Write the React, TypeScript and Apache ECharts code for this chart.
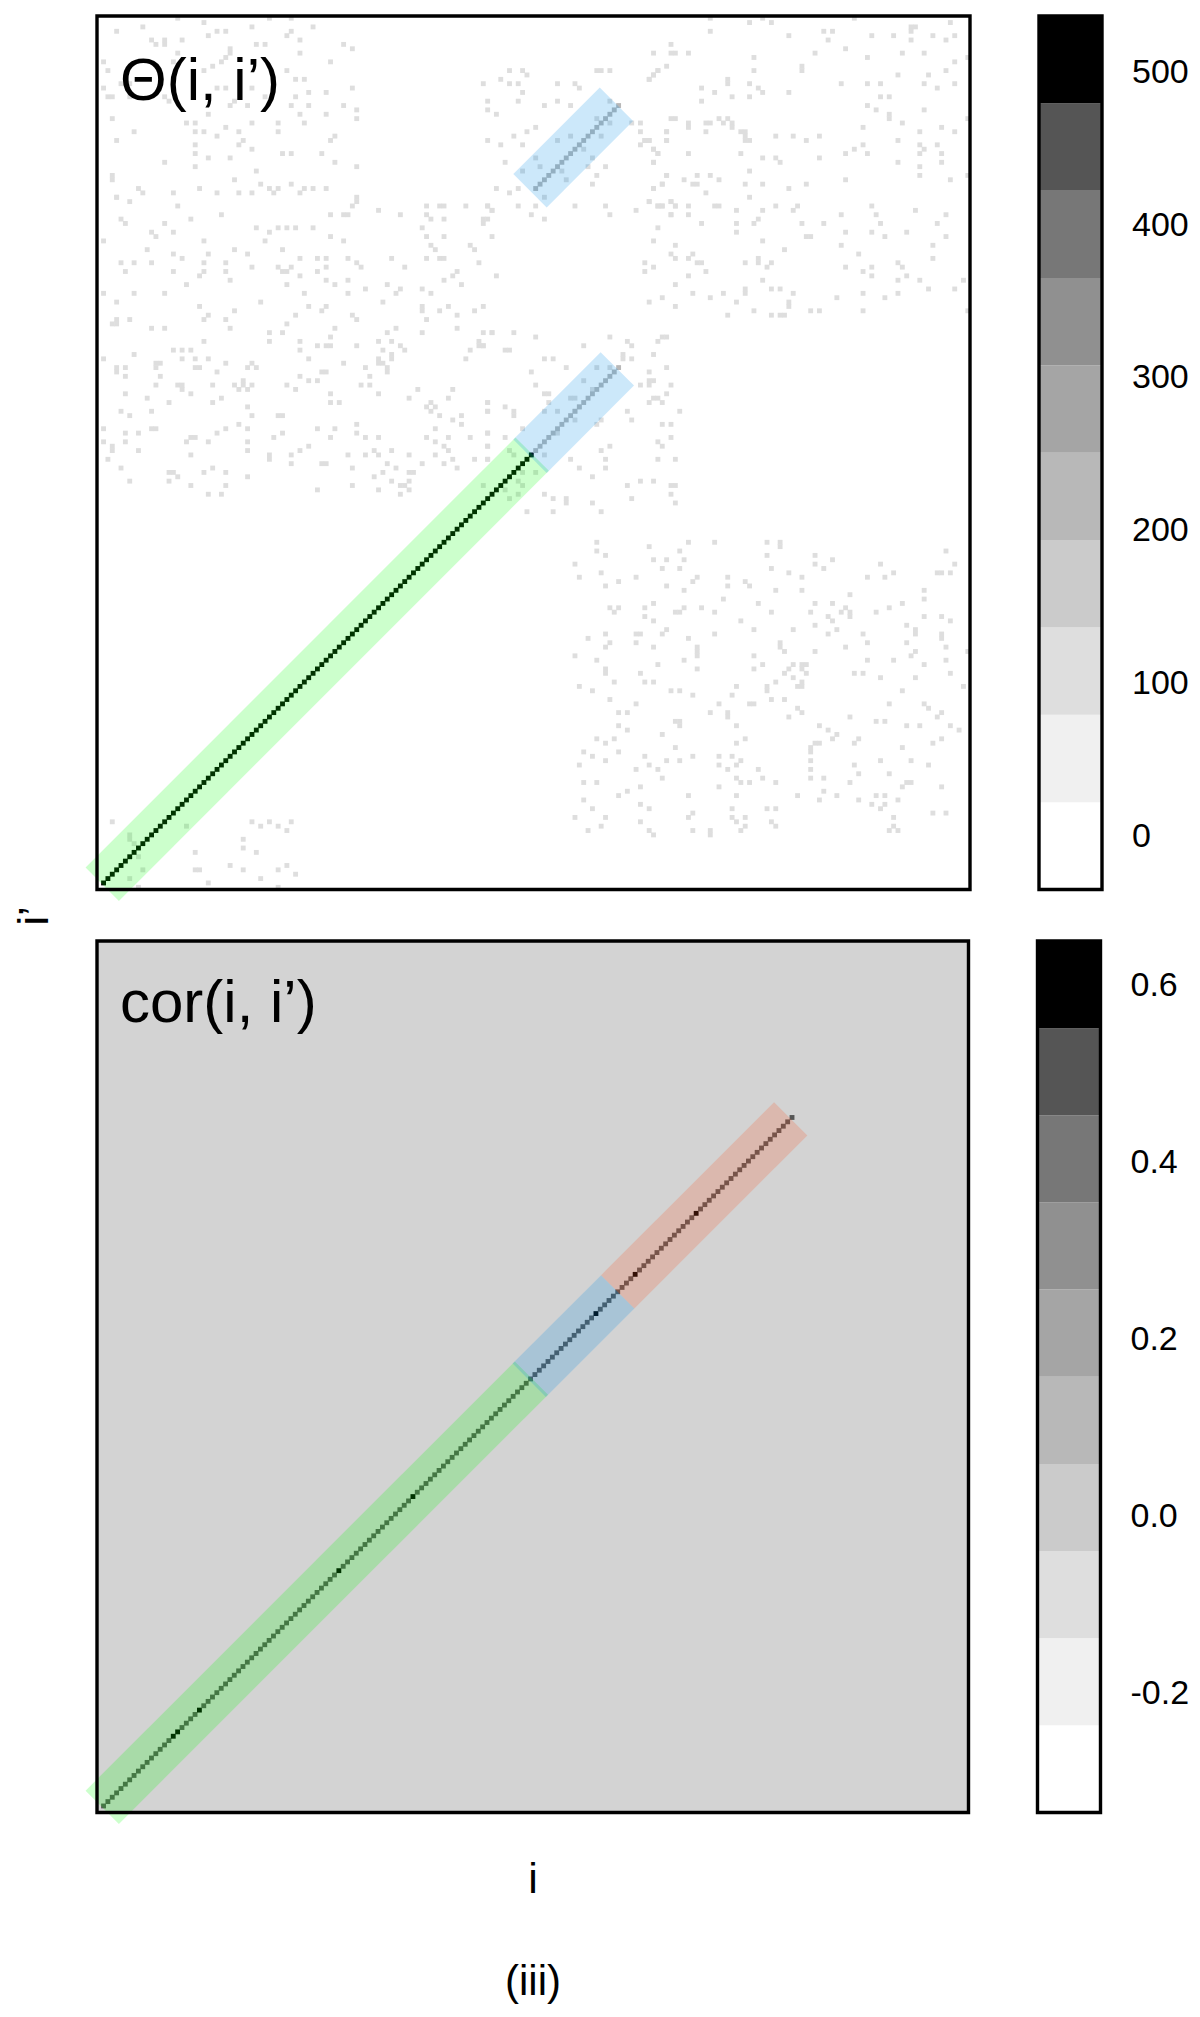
import React, { useEffect, useRef } from "react";
import * as echarts from "echarts";

// KNOWN OMISSIONS, not oversights:
// - cor panel: the per-cell noise (about 40000 cells) could not be read from the picture and is not
//   synthesised; the grid background is a flat estimate of its mean tone.
// - Theta panel: the light scattered cells are only those transcribed from zoomed crops, so regions
//   outside those crops are blank in this drawing although the reference has cells there too.
// - Diagonal values in the cor panel are a single typical level plus the visibly black peaks.

const CELL_COUNT = 200;
const cellCategories = Array.from({ length: CELL_COUNT }, (_, k) => String(k + 1));
const levelColors = ["#ffffff", "#f0f0f0", "#dedede", "#cbcbcb", "#b8b8b8", "#a5a5a5", "#909090", "#777777", "#555555", "#000000"];

// Colour-scale edges
const thetaBreaks = [-36, 21.2, 78.4, 135.6, 192.8, 250, 307.2, 364.4, 421.6, 478.8, 536];
const corBreaks = [-0.336, -0.2376, -0.1392, -0.0408, 0.0576, 0.156, 0.2544, 0.3528, 0.4512, 0.5496, 0.648];
const thetaTicks = [0, 100, 200, 300, 400, 500];
const corTicks = [-0.2, 0, 0.2, 0.4, 0.6];

// Theta: diagonal runs (first index, last index, value, y offset)
const thetaRuns = [
  [1, 99, 530, 0],
  [100, 119, 220, 0],
  [100, 119, 220, 60],
];
// Correlation diagonal
const corDiagonalLast = 159;
const corDiagonalTypical = 0.5;
const corDiagonalPeaks = [17, 18, 23, 55, 72, 114, 123, 137];
const corPeakValue = 0.62;

const thetaScatter = [
  [4,3],[10,2],[18,0],[24,1],[35,2],[39,0],[44,0],[49,2],[25,4],[27,3],[29,3],[44,3],[43,4],[12,5],[13,6],[15,5],[15,6],[19,5],[36,6],[38,6],[46,5],[56,6],[58,7],[30,7],[30,8],[18,8],[46,8],[29,9],[28,10],[1,10],[17,10],[53,10],[2,12],[24,12],[26,11],[43,12],[45,14],[47,14],[1,16],[5,15],[7,15],[29,16],[27,16],[35,16],[58,16],[48,17],[52,17],[2,18],[3,18],[7,18],[15,18],[16,19],[45,18],[38,18],[31,19],[30,20],[34,20],[44,20],[48,20],[56,20],[59,21],[25,22],[46,22],[52,22],[59,23],[3,23],[20,24],[22,24],[35,24],[41,24],[47,24],[29,25],[8,26],[22,26],[24,26],[32,26],[41,26],[27,27],[54,27],[53,28],[4,28],[33,28],[32,29],[22,29],[35,30],[22,31],[42,31],[44,31],[51,31],[25,32],[30,32],[15,33],[54,33],[22,34],[59,34],[36,35],[3,36],[3,37],[31,37],[37,38],[44,38],[9,39],[10,40],[23,39],[39,39],[41,39],[47,39],[49,39],[52,39],[4,41],[17,40],[27,40],[32,40],[35,40],[40,40],[46,40],
  [88,15],[92,14],[94,15],[96,15],[97,17],[89,19],[96,19],[89,21],[91,22],[102,20],[105,15],[109,15],[110,16],[105,19],[108,20],[117,19],[114,23],[117,24],[122,24],[124,24],[100,25],[98,26],[95,27],[108,27],[115,27],[89,28],[92,29],[97,29],[105,28],[111,30],[124,26],[130,26],[130,28],[125,28],[126,28],[124,29],[127,30],[128,31],[127,33],[93,33],[100,32],[101,34],[97,35],[106,35],[113,32],[112,34],[116,34],[107,37],[114,36],[113,38],[130,36],[129,38],[127,39],[91,39],[96,39],[94,40],[102,41],[89,43],[90,44],[96,43],[100,43],[109,43],[116,43],[123,44],[126,42],[128,43],[129,43],[131,42],[132,43],[117,45],[131,45],[99,45],[102,46],[94,12],[97,12],[98,13],[114,12],[115,12],[117,12],[126,14],[127,13],[128,12],
  [90,72],[95,72],[100,73],[117,73],[129,73],[130,73],[121,74],[122,75],[128,74],[88,75],[93,76],[94,76],[111,75],[127,77],[120,77],[120,78],[102,78],[104,78],[122,78],[107,80],[114,80],[117,80],[130,80],[99,81],[126,81],[111,83],[126,83],[127,83],[126,84],[100,84],[124,84],[131,84],[113,85],[102,86],[103,86],[130,86],[108,87],[109,87],[127,87],[128,87],[103,88],[89,88],[126,88],[129,88],[93,89],[110,89],[109,90],[89,90],[95,90],[95,91],[102,90],[105,90],[121,90],[133,90],[115,92],[122,92],[109,92],[114,93],[129,93],[131,93],[97,94],[89,95],[105,95],[131,96],[93,96],[128,97],[129,98],[89,98],[117,98],[115,99],[89,101],[94,99],[95,100],[102,100],[108,101],[116,101],[128,101],[132,101],[110,103],[116,103],[97,104],[100,104],[113,105],[121,107],[124,106],[127,106],[131,107],[132,107],[88,107],[97,107],[96,106],[93,108],[96,109],[102,109],[104,110],[107,110],[107,111],[122,110],[131,109],[94,110],[113,111],[132,111],[98,113],[104,113],[115,113],
  [3,184],[7,187],[7,188],[20,185],[35,184],[37,185],[39,184],[41,185],[44,184],[43,186],[33,188],[33,190],[36,191],[22,191],[8,189],[9,192],[30,194],[33,195],[43,194],[41,195],[45,196],[22,195],[23,195],[10,195],[7,197],[25,198],[37,197],[41,199],[9,199],
];

// More of the same cells, listed by row: [row from top, ...columns]
const thetaRowsLeft = [
  [41,4,59],[42,7,59],[43,18,58,75,78,79,84,89],[44,64,90],[45,28,53,56,57,69,75],[46,5,21,76,79,88,89],[47,6,15,88],[48,36,41,43,45,49,74],[49,12,17,39],[50,13,53,75,79,90],[51,1,24,38,56],[52,76,85],[53,11,31,42,77,86],[54,17,25,34],[55,19,46,50,52,57,67,75,78,79],[56,5,8,12,24,29,59,87],[57,35,41,44,52,60,70],[58,6,17,24,29,42,43,50,82],[59,23,46,81,91],[60,30,52,57,79],[61,20,43,54,66,83],[62,61,69,74],[63,1,8,15,47,57,68,76],[65,4,37,65],[66,23,48,52,74,80,88],[67,31,51,74,78,86],[68,25,45,58,82],[69,4,7,24,29,59,75],[70,3,4,43],[71,12,15,30,54,68,82],[72,39,42,66,74,88,90],[73,53],[74,24,39,46,64,67,87],[75,50,52,53,59,69,87,88],[76,17,19,21,46,65,70,85],[77,8,67],[78,1,19,22,25,48,64,67,84],[79,13,14,29,35,56,64,65],[80,4,6,13,22,23,34,36,61,66],[81,4,27,51,52,66],[82,6,14,46,62],[83,33,48,50],[84,13,18,19,26,31,33,35,43,60,62],[85,19,32,34,45,73,81],[86,6,21,53,64],[87,11,28,71,80],[88,16,26,53,55,76,89],[89,34,75,77],[90,5,12,76,89],[91,7,35,41,42,78,83],[92,81],[93,32,59,83],[94,1,12,13,29,34,50,54,77],[95,6,9,27,42,59,89],[96,21,22,40,53,61,64,75,80,85],[97,1,6,20,25,34,77],[98,3,48,79,89],[99,3,9,34,46,63,67,80],[100,21,39,44,57,61,64,71,77],[101,2,39,81,86,89],[102,44,51,52,66,74,79],[103,5,26,58,68,82],[104,16,17,24,29,65,71,72],[105,18,34,63],[106,7,16,67,71],[107,21,29,58,69,70],[108,50,64,71],[109,25,28,69],
];
const thetaRowsTopRight = [
  [0,140,152,173],[1,149,154,195],[2,186,187],[3,140,166,168,186],[4,158,177,182,191,196],[5,167,186,194],[6,131],[7,171],[8,127,131,132,135,164,184,189],[9,150,176,199],[10,196],[11,130,161],[12,128,150,161,194],[13,127,183,190],[14,126,144],[15,144,149,170,176,179,189,196],[16,138,151,192],[17,141,152,158],[18,145,149,179,181],[19,138],[20,176],[21,178,189],[22,181],[23,131,132,142,144,181,199],[24,135,139,140,143,145,184],[25,135,145,175,193],[26,130,139,147,148,188,196],[27,148,155,159,165],[28,125,126,130,148,149,162,183],[29,175,188,192],[30,127,173,189],[31,128,135,147,171,176,188,193],[32,152,155,165],[33,127,156,183,193],[34,188],[35,149],[36,130,137,140,188,199],[37,134,142,171,195],[38,129,136,137,148,152,162],[39,127,158],[40,139],[41,149],[42,126,131],[43,128,129,132,135,141,142,155,160,177],[44,146,152,159,187],[45,131,135,170,178,194],[46,151],[47,138,146,150,161,166,179,192],[48,128],[49,146,171,177,185],[50,162,163,180,194],[51,127,152],[52,132,170,191],[53,157],[54,131,136,174],[55,132,135,151,191],[56,125,137,138,148,151,154,183],[57,127,153,171,177,184],[58,125,139,175],[59,135,177,185],[60,152,183,188,198],[61,132],[62,148,154,156,190,196],[63,136,143,148,159,175,183],[64,129,140,169,180],[65,126,146,158],[66,132,158],[67,150,163,165,175,199],[68,144,154,156,157],
];
const thetaRowsLowerRight = [
  [120,114,135,141,153,156],[121,126,156],[122,114,133,194],[123,116,153,164],[124,127,130,134,168],[125,109,164,179,196],[126,129,133,154,166],[127,115,158,182,192,193,195],[128,110,123,137,144,161,176,180],[129,119,136,148],[130,116,130,144,149],[131,134,155,161,189],[132,172],[133,143,189],[134,127,151,164,168,184],[135,117,119,125,134,138,171,181],[136,118,132,133,141,154,163,170,172,178],[137,125,167,172,189,193],[138,127,147,168,195],[139,164,185],[140,130,150,159,169,187],[141,116,123,124,129,141,167,175,187,193],[142,112,135,193],[143,117,123,156,176,185],[144,116,127,137,156,171,194],[145,137,157,164,187,199],[146,109,137,150,186],[147,114,134,176,182,194],[148,128,152,159,161,162,189],[149,116,137,150,158,161],[150,116,124,157,162,173,175,195],[151,159,179,187],[152,118,125,127,155,161],[153,110,146,153,160,161,198],[154,113,131,133,153,184],[155,136,145],[156,117,154,157],[157,123,142,149,150,181,189],[158,160,190],[159,119,121,140,144,161,193],[160,144,158,172,192],[161,132,133,178,180],[162,119,133,146,165,185,188,195],[163,121,167,197],[164,129,169],[165,114,118,148,168,174,193],[166,116,146,164,165,173,191],[167,132,163,184],[168,111,119,163],[169,113,125,136,142,145],[170,116,130,133,147,163,179,186],[171,110,126,142,146,173,190],[172,123,128,144,151,163],[173,174,181],[174,129,146,152,163,166],[175,111,114,147,149,155,172,185,186],[176,124,142,184,193],[177,121,166],[178,119,135,146,160,169,178,180],[179,111,165,174,183],[180,124,177,180],[181,113,126,145,153,155,179],[182,136,191,194],[183,109,116,135,145,148,182],[184,124,146,154],[185,115,148,155,182],[186,112,126,136,140,147,181,183],[187,127,140],
];
const thetaScatterValue = 100;

// Shaded bands along the diagonals: [from, to, y offset, colour]
const GREEN = "rgba(0,255,0,0.2)";
const BLUE = "rgba(0,140,230,0.2)";
const RED = "rgba(255,80,30,0.2)";
const thetaBands = [
  [1.2, 99.7, 0, GREEN],
  [99.2, 119.2, 0, BLUE],
  [99.2, 119, 60.8, BLUE],
];
const corBands = [
  [1.2, 99.7, 0, GREEN],
  [99.2, 119.5, 0, BLUE],
  [119.5, 159.2, 0, RED],
];
const BAND_HALF = 3.82;

const FONT = '"Liberation Sans", Arial, sans-serif';

function piecesFrom(breaks: number[]) {
  return levelColors.map((color, k) => ({ gte: breaks[k], lt: breaks[k + 1], color }));
}

function bandItem(bands: any[]) {
  return (_: any, api: any) => {
    const [from, to, off, color] = bands[api.value(0)];
    const pts = [
      [from - BAND_HALF, from + off + BAND_HALF],
      [to - BAND_HALF, to + off + BAND_HALF],
      [to + BAND_HALF, to + off - BAND_HALF],
      [from + BAND_HALF, from + off - BAND_HALF],
    ].map((p) => api.coord(p));
    return { type: "polygon", shape: { points: pts }, style: { fill: color } };
  };
}

function barItem(breaks: number[]) {
  return (_: any, api: any) => {
    const k = api.value(0);
    const a = api.coord([0, breaks[k + 1]]);
    const b = api.coord([1, breaks[k]]);
    return { type: "rect", shape: { x: a[0], y: a[1], width: b[0] - a[0], height: b[1] - a[1] }, style: { fill: levelColors[k] } };
  };
}

export default function App() {
  const ref = useRef<HTMLDivElement>(null);
  useEffect(() => {
    const chart = echarts.init(ref.current!, null, { renderer: "svg" });

    const P1 = { left: 97, top: 16, width: 873, height: 873.5 };
    const P2 = { left: 97, top: 941, width: 871.5, height: 871.5 };
    const C1 = { left: 1039, top: 16, width: 63, height: 873.5 };
    const C2 = { left: 1037.5, top: 941, width: 63, height: 871.5 };

    const thetaData: number[][] = [];
    thetaScatter.forEach(([c, r]) => thetaData.push([c, CELL_COUNT - 1 - r, thetaScatterValue]));
    [...thetaRowsLeft, ...thetaRowsTopRight, ...thetaRowsLowerRight].forEach(([r, ...cols]) => {
      cols.forEach((c) => { if (c < CELL_COUNT) thetaData.push([c, CELL_COUNT - 1 - r, thetaScatterValue]); });
    });
    thetaRuns.forEach(([a, b, v, off]) => {
      for (let k = a; k <= b; k++) thetaData.push([k, k + off, v]);
    });
    const corData: number[][] = [];
    for (let k = 1; k <= corDiagonalLast; k++) {
      corData.push([k, k, corDiagonalPeaks.includes(k) ? corPeakValue : corDiagonalTypical]);
    }

    const hiddenCat = (gridIndex: number) => ({ type: "category", data: cellCategories, gridIndex, show: false });
    const hiddenVal = (gridIndex: number, max: number) => ({ type: "value", min: 0, max, gridIndex, show: false });
    const scaleAxis = (gridIndex: number, min: number, max: number, ticks: number[], fmt: (v: number) => string) => ({
      type: "value", gridIndex, position: "right", min, max, splitLine: { show: false },
      axisLine: { show: false },
      axisTick: { show: true, length: 14, lineStyle: { color: "#000", width: 3 }, customValues: ticks },
      axisLabel: { show: true, margin: 30, color: "#000", fontFamily: FONT, fontSize: 34, customValues: ticks, formatter: fmt, showMinLabel: true, showMaxLabel: true },
    });
    const frame = (g: any) => ({
      type: "rect", z: 100, shape: { x: g.left, y: g.top, width: g.width, height: g.height },
      style: { fill: "none", stroke: "#000", lineWidth: 3.4 },
    });
    const label = (text: string, x: number, y: number, size: number, align = "left", rotation = 0) => ({
      type: "text", z: 101, x, y, rotation,
      style: { text, fill: "#000", font: `${size}px ${FONT}`, textAlign: align, textVerticalAlign: "bottom" },
    });

    chart.setOption({
      animation: false,
      backgroundColor: "#fff",
      grid: [
        { ...P1, show: true, backgroundColor: "#ffffff", borderWidth: 0 },
        { ...C1 },
        { ...P2, show: true, backgroundColor: "#d3d3d3", borderWidth: 0 },
        { ...C2 },
      ],
      xAxis: [hiddenCat(0), hiddenVal(0, CELL_COUNT), hiddenVal(1, 1), hiddenCat(2), hiddenVal(2, CELL_COUNT), hiddenVal(3, 1)],
      yAxis: [
        hiddenCat(0), hiddenVal(0, CELL_COUNT),
        scaleAxis(1, thetaBreaks[0], thetaBreaks[10], thetaTicks, (v) => String(v)),
        hiddenCat(2), hiddenVal(2, CELL_COUNT),
        scaleAxis(3, corBreaks[0], corBreaks[10], corTicks, (v) => v.toFixed(1)),
      ],
      visualMap: [
        { type: "piecewise", show: false, seriesIndex: 0, dimension: 2, pieces: piecesFrom(thetaBreaks) },
        { type: "piecewise", show: false, seriesIndex: 3, dimension: 2, pieces: piecesFrom(corBreaks) },
      ],
      series: [
        { type: "heatmap", xAxisIndex: 0, yAxisIndex: 0, data: thetaData, z: 2, silent: true, progressive: 0 },
        { type: "custom", xAxisIndex: 1, yAxisIndex: 1, clip: false, z: 3, silent: true, data: thetaBands.map((_, k) => [k]), renderItem: bandItem(thetaBands) },
        { type: "custom", xAxisIndex: 2, yAxisIndex: 2, z: 2, silent: true, data: levelColors.map((_, k) => [k]), renderItem: barItem(thetaBreaks) },
        { type: "heatmap", xAxisIndex: 3, yAxisIndex: 3, data: corData, z: 2, silent: true, progressive: 0 },
        { type: "custom", xAxisIndex: 4, yAxisIndex: 4, clip: false, z: 3, silent: true, data: corBands.map((_, k) => [k]), renderItem: bandItem(corBands) },
        { type: "custom", xAxisIndex: 5, yAxisIndex: 5, z: 2, silent: true, data: levelColors.map((_, k) => [k]), renderItem: barItem(corBreaks) },
      ],
      graphic: [
        frame(P1), frame(C1), frame(P2), frame(C2),
        label("Θ(i, i’)", 120, 109, 60),
        label("cor(i, i’)", 120, 1031, 60),
        label("i’", 54, 916, 43, "center", Math.PI / 2),
        label("i", 533, 1899, 43, "center"),
        label("(iii)", 533, 2001, 42, "center"),
      ],
    });
    return () => chart.dispose();
  }, []);
  return <div ref={ref} style={{ position: "absolute", left: 0, top: 0, width: 1200, height: 2017 }} />;
}
